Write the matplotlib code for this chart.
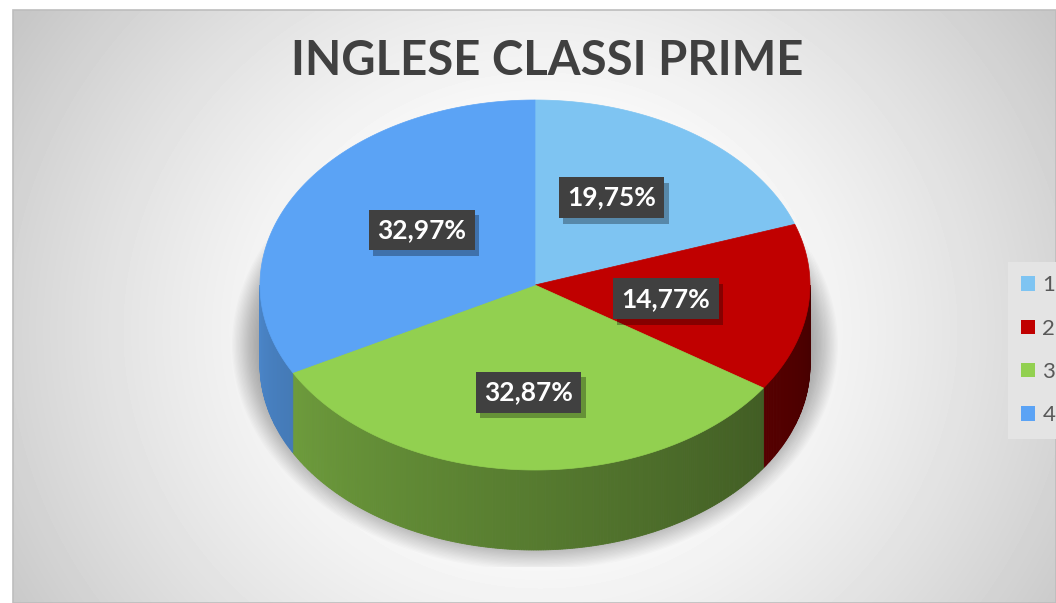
import numpy as np
import matplotlib.pyplot as plt
from matplotlib.patches import Polygon, Ellipse, Rectangle, Patch
from matplotlib import patheffects
from matplotlib.colors import to_rgb

labels = ['1', '2', '3', '4']
values = [19.75, 14.77, 32.87, 32.97]
pct_labels = ['19,75%', '14,77%', '32,87%', '32,97%']
colors = ['#7ec4f2', '#c00000', '#92d050', '#5ba3f5']
title = 'INGLESE CLASSI PRIME'

W, H = 1056, 603
fig = plt.figure(figsize=(W / 100, H / 100), dpi=100)
ax = fig.add_axes([0, 0, 1, 1])

# background: radial grey gradient inside the chart frame
x0, y0 = 13, 10
yy, xx = np.mgrid[y0:H, x0:W]
d = np.hypot(xx - 540, (yy - 330) * 1.1)
t = np.clip((d - 150) / 470, 0, 1)
g = 1.0 - 0.22 * t ** 1.3
ax.imshow(g, cmap='gray', vmin=0, vmax=1, extent=[x0, W, H, y0],
          interpolation='bilinear', zorder=0, aspect='auto')
ax.add_patch(Rectangle((x0, y0), W - x0, H - y0, fill=False,
                       edgecolor='#bdbdbd', lw=1.2, zorder=1))

# pie geometry
cx, cy, rx, ry, depth = 535, 285, 275, 185, 80


def px(a):
    return cx + rx * np.sin(np.radians(a))


def py(a):
    return cy - ry * np.cos(np.radians(a))


# soft shadow under the pie, cut off at the bottom like the original
clip = Rectangle((0, 0), W, 567, transform=ax.transData)
n = 30
for i in range(n):
    f = i / (n - 1)
    e = Ellipse((cx, cy + 60), 2 * (rx + 28 - 38 * f), 2 * (ry + 40 - 38 * f),
                facecolor='black', edgecolor='none', alpha=0.016, zorder=2)
    ax.add_patch(e)
    e.set_clip_path(clip)

bounds = np.concatenate([[0], np.cumsum(values)]) / sum(values) * 360

# side walls (front half only)
for i, c in enumerate(colors):
    a0, a1 = bounds[i], bounds[i + 1]
    s0, s1 = max(a0, 90), min(a1, 270)
    if s1 <= s0:
        continue
    base = np.array(to_rgb(c))
    steps = np.linspace(s0, s1, max(2, int((s1 - s0) * 2)))
    for t0, t1 in zip(steps[:-1], steps[1:]):
        m = (t0 + t1) / 2
        k = 0.36 + 0.46 * (m - 90) / 180
        col = np.clip(base * k, 0, 1)
        quad = [(px(t0), py(t0)), (px(t1), py(t1)),
                (px(t1), py(t1) + depth), (px(t0), py(t0) + depth)]
        ax.add_patch(Polygon(quad, closed=True, facecolor=col,
                             edgecolor=col, lw=0.6, zorder=3))

# top faces
for i, c in enumerate(colors):
    a0, a1 = bounds[i], bounds[i + 1]
    arc = np.linspace(a0, a1, 200)
    pts = [(cx, cy)] + list(zip(px(arc), py(arc)))
    ax.add_patch(Polygon(pts, closed=True, facecolor=c, edgecolor=c,
                         lw=0.5, zorder=4))

# data labels (dark boxes with a drop shadow)
for i, lab in enumerate(pct_labels):
    m = (bounds[i] + bounds[i + 1]) / 2
    lx = cx + rx * 0.48 * np.sin(np.radians(m))
    ly = cy - ry * 0.58 * np.cos(np.radians(m))
    txt = ax.text(lx, ly, lab, ha='center', va='center', fontsize=19,
                  fontweight='bold', family='Lato', color='white',
                  bbox=dict(boxstyle='square,pad=0.32', facecolor='#404040',
                            edgecolor='none'), zorder=6)
    txt.get_bbox_patch().set_path_effects([
        patheffects.SimplePatchShadow(offset=(3, -4), shadow_rgbFace='black', alpha=0.3),
        patheffects.Normal()])

ax.text(547, 61, title, ha='center', va='center', fontsize=34,
        fontweight='bold', family='Lato', color='#404040', zorder=6)

handles = [Patch(facecolor=c, edgecolor='none') for c in colors]
leg = ax.legend(handles, labels, loc='upper left',
                bbox_to_anchor=(1008 / W, 1 - 262 / H),
                bbox_transform=fig.transFigure, frameon=True,
                facecolor='#e4e4e4', edgecolor='none', framealpha=1,
                fancybox=False, handlelength=0.6, handleheight=0.6,
                handletextpad=0.35, labelspacing=1.05, borderpad=0.6,
                borderaxespad=0, prop={'family': 'Lato', 'size': 16})
for lt in leg.get_texts():
    lt.set_color('#595959')

ax.set_xlim(0, W)
ax.set_ylim(H, 0)
ax.axis('off')
fig.savefig('out.png', dpi=100, facecolor='white')
